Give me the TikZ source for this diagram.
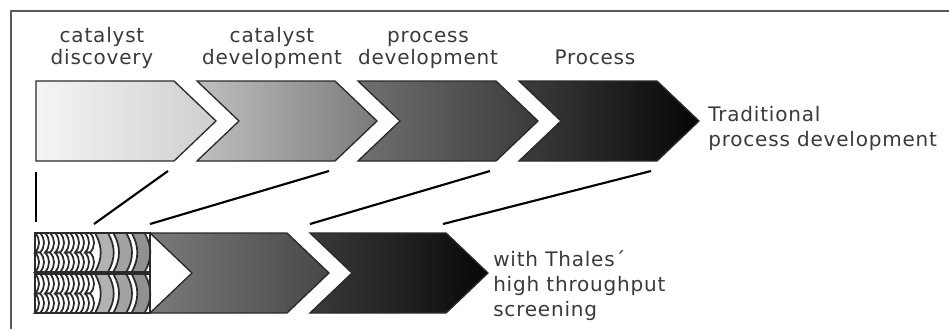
\documentclass[tikz,border=0pt]{standalone}
\usepackage{fontspec}
\setmainfont[LetterSpace=4]{DejaVu Sans}
\definecolor{framegray}{HTML}{5A5A5A}
\definecolor{textgray}{HTML}{3A3A3A}
\definecolor{edgegray}{HTML}{2A2A2A}

\begin{document}
\begin{tikzpicture}[x=0.75pt, y=-0.75pt,
    chev/.style = {draw=edgegray, line width=1pt, line join=miter},
    mini/.style = {draw=edgegray, line width=1.3pt, fill=white},
    link/.style = {line width=1.6pt, black},
    lbl/.style = {font=\fontsize{15}{16.5}\selectfont, text=textgray, align=center, inner sep=0pt, anchor=base},
    side/.style = {font=\fontsize{15}{18.7}\selectfont, text=textgray, align=left, inner sep=0pt, anchor=base west}]
    \useasboundingbox (0,0) rectangle (949,329);
    \draw[framegray, line width=1.4pt] (949,11) -- (11,11) -- (11,329);

    % traditional chain
    \foreach \x/\n/\lc/\rc [count=\i] in {36/0/black!4/black!19, 197/42/black!25/black!52, 358/42/black!56/black!77, 519/42/black!76/black!98} {
        \draw[chev, left color=\lc, right color=\rc] (\x,81) -- ++(138,0) -- ++(42,40) -- ++(-42,40) -- ++(-138,0) -- ++(\n,-40) -- cycle;
        \coordinate (t\i) at (\x+132,171);
    }
    \coordinate (t0) at (36,172);

    % high throughput chain
    \foreach \yb in {233,274} {
        \foreach \c in {0,...,5}
            \foreach \dy in {0,19.5}
                \draw[mini] (35+\c*10,\yb+\dy) -- ++(5,0) to[bend left=45] ++(0,19.5) -- ++(-5,0) to[bend right=45] ++(0,-19.5);
        \foreach \c/\g in {0/30,1/36,2/43}
            \draw[mini, fill=black!\g] (95+\c*18.3,\yb) -- ++(13,0) to[bend left=30] ++(0,39) -- ++(-13,0) to[bend right=30] ++(0,-39);
        \draw[mini, fill=none] (35,\yb) rectangle (150,\yb+39);
    }
    \draw[chev, left color=black!52, right color=black!72] (150,233) -- ++(137,0) -- ++(42,40) -- ++(-42,40) -- ++(-137,0) -- ++(42,-40) -- cycle;
    \draw[chev, left color=black!77, right color=black!97] (310,233) -- ++(136,0) -- ++(42,40) -- ++(-42,40) -- ++(-136,0) -- ++(42,-40) -- cycle;
    \coordinate (b0) at (36,222);
    \coordinate (b1) at (94,224);
    \coordinate (b2) at (150,224);
    \coordinate (b3) at (310,224);
    \coordinate (b4) at (443,224);

    \foreach \i in {0,...,4}
        \draw[link] (t\i) -- (b\i);

    % labels
    \node[lbl] (disc) at (102,64) {catalyst\\discovery};
    \node[lbl] (catdev) at (272,64) {catalyst\\development};
    \node[lbl] (procdev) at (428,64) {process\\development};
    \node[lbl] (proc) at (595,64) {Process};
    \node[side] (trad) at (708,146) {Traditional\\process development};
    \node[side] (hts) at (493,316) {with Thales´\\high throughput\\screening};
\end{tikzpicture}
\end{document}
